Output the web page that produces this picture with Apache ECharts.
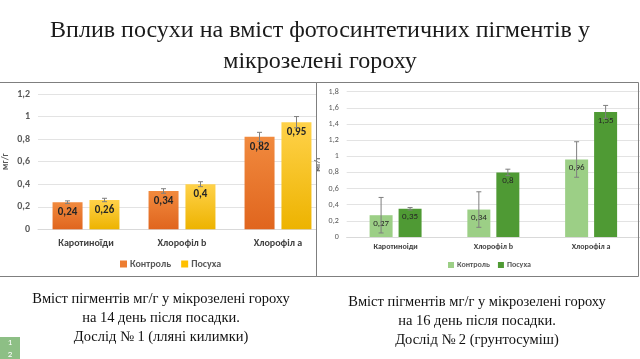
<!DOCTYPE html>
<html><head><meta charset="utf-8">
<script src="https://cdn.jsdelivr.net/npm/echarts@6/dist/echarts.min.js"></script>
<style>html,body{margin:0;padding:0;background:#fff}#c{width:640px;height:359px}</style>
</head><body><div id="c"></div>
<script>
const categories1 = ['Каротиноїди', 'Хлорофіл b', 'Хлорофіл а'];
const control1 = [0.24, 0.34, 0.82];
const drought1 = [0.26, 0.4, 0.95];
const controlErr1 = [0.012, 0.02, 0.04];
const droughtErr1 = [0.015, 0.022, 0.05];

const categories2 = ['Каротиноіди', 'Хлорофіл b', 'Хлорофіл а'];
const control2 = [0.27, 0.34, 0.96];
const drought2 = [0.35, 0.8, 1.55];
const controlErr2 = [0.22, 0.22, 0.22];
const droughtErr2 = [0.015, 0.04, 0.08];

const seriesNames = ['Контроль', 'Посуха'];
const yTicks1 = {min: 0, max: 1.2, interval: 0.2};
const yTicks2 = {min: 0, max: 1.8, interval: 0.2};

const titleLines = ['Вплив посухи на вміст фотосинтетичних пігментів у', 'мікрозелені гороху'];
const caption1 = ['Вміст пігментів мг/г у мікрозелені гороху', 'на 14 день після посадки.', 'Дослід № 1 (лляні килимки)'];
const caption2 = ['Вміст пігментів мг/г у мікрозелені гороху', 'на 16 день після посадки.', 'Дослід № 2 (грунтосуміш)'];

const comma = v => String(+(+v).toFixed(2)).replace('.', ',');
const grad = (a, b) => new echarts.graphic.LinearGradient(0, 0, 0, 1, [{offset: 0, color: a}, {offset: 1, color: b}]);

function errSeries(xi, yi, vals, errs, offset) {
  return {
    type: 'custom', xAxisIndex: xi, yAxisIndex: yi, z: 5, silent: true,
    data: vals.map((v, i) => [i, v - errs[i], v + errs[i]]),
    renderItem: (params, api) => {
      const lo = api.coord([api.value(0), api.value(1)]);
      const hi = api.coord([api.value(0), api.value(2)]);
      const x = lo[0] + offset;
      const st = {stroke: '#7f7f7f', lineWidth: 1};
      return {type: 'group', children: [
        {type: 'line', shape: {x1: x, y1: lo[1], x2: x, y2: hi[1]}, style: st},
        {type: 'line', shape: {x1: x - 2.5, y1: lo[1], x2: x + 2.5, y2: lo[1]}, style: st},
        {type: 'line', shape: {x1: x - 2.5, y1: hi[1], x2: x + 2.5, y2: hi[1]}, style: st}
      ]};
    }
  };
}

const serif = '"Liberation Serif", "Times New Roman", serif';
const sans = 'Calibri, Carlito, "Open Sans", "Noto Sans", sans-serif';

const graphics = [];
titleLines.forEach((t, i) => graphics.push({type: 'text', x: 320, y: 31 + i * 31, z: 10,
  style: {text: t, font: '24px ' + serif, fill: '#1a1a1a', textAlign: 'center', textVerticalAlign: 'middle'}}));
caption1.forEach((t, i) => graphics.push({type: 'text', x: 161, y: 299 + i * 19, z: 10,
  style: {text: t, font: '14.5px ' + serif, fill: '#111', textAlign: 'center', textVerticalAlign: 'middle'}}));
caption2.forEach((t, i) => graphics.push({type: 'text', x: 477, y: 302 + i * 19, z: 10,
  style: {text: t, font: '14.5px ' + serif, fill: '#111', textAlign: 'center', textVerticalAlign: 'middle'}}));
// right panel white background (covers left grid overflow)
graphics.push({type: 'rect', z: 1, shape: {x: 316.5, y: 82.5, width: 330, height: 194}, style: {fill: '#fff'}});
// panel borders
graphics.push({type: 'rect', z: 10, shape: {x: -1, y: 82.5, width: 317.5, height: 194}, style: {fill: 'none', stroke: '#7f7f7f', lineWidth: 1}});
graphics.push({type: 'rect', z: 10, shape: {x: 316.5, y: 82.5, width: 322, height: 194}, style: {fill: 'none', stroke: '#7f7f7f', lineWidth: 1}});
graphics.push({type: 'rect', z: 10, shape: {x: 0, y: 337, width: 20, height: 22}, style: {fill: '#8dbf85'}});
graphics.push({type: 'text', x: 10, y: 343, z: 11, style: {text: '1', font: '9px ' + sans, fill: '#fff', textAlign: 'center', textVerticalAlign: 'middle'}});
graphics.push({type: 'text', x: 10, y: 355, z: 11, style: {text: '2', font: '9px ' + sans, fill: '#fff', textAlign: 'center', textVerticalAlign: 'middle'}});

const c1 = ['#F18A3E', '#E0651E'];
const y1 = ['#FFD24A', '#EDB300'];
const g1 = '#9ccf86';
const g2 = '#4f9a34';

const option = {
  animation: false,
  backgroundColor: '#fff',
  textStyle: {fontFamily: sans},
  graphic: graphics,
  grid: [
    {left: 35, top: 94, width: 291, height: 135.3},
    {left: 346.7, top: 91.7, width: 303, height: 145.3}
  ],
  xAxis: [
    {type: 'category', gridIndex: 0, data: categories1, z: 0,
      axisLine: {show: true, lineStyle: {color: '#d9d9d9'}}, axisTick: {show: false},
      axisLabel: {margin: 9, fontSize: 10, fontWeight: 'bold', color: '#404040'}},
    {type: 'category', gridIndex: 1, data: categories2, z: 3,
      axisLine: {show: true, lineStyle: {color: '#d9d9d9'}}, axisTick: {show: false},
      axisLabel: {margin: 6, fontSize: 8, fontWeight: 'bold', color: '#404040'}}
  ],
  yAxis: [
    Object.assign({type: 'value', gridIndex: 0, z: 0, name: 'мг/г', nameLocation: 'middle', nameGap: 28, nameRotate: 90,
      nameTextStyle: {fontSize: 9, fontWeight: 'bold', color: '#595959'},
      axisLabel: {formatter: comma, fontSize: 10, fontWeight: 'bold', color: '#595959', margin: 8},
      splitLine: {lineStyle: {color: '#e3e3e3'}}}, yTicks1),
    Object.assign({type: 'value', gridIndex: 1, z: 3, name: 'мг/г', nameLocation: 'middle', nameGap: 25, nameRotate: 90,
      nameTextStyle: {fontSize: 8, fontWeight: 'bold', color: '#595959'},
      axisLabel: {formatter: comma, fontSize: 8, color: '#595959', margin: 8},
      splitLine: {lineStyle: {color: '#e3e3e3'}}}, yTicks2)
  ],
  legend: [
    {left: 115, top: 254, itemWidth: 7, itemHeight: 7, itemGap: 10, icon: 'rect',
      textStyle: {fontSize: 10, fontWeight: 'bold', color: '#595959', padding: [0, 0, 0, -2]},
      data: [{name: seriesNames[0], itemStyle: {color: '#ED7D31'}}, {name: seriesNames[1], itemStyle: {color: '#FFC000'}}]},
    {left: 443, top: 256, itemWidth: 6, itemHeight: 6, itemGap: 8, icon: 'rect',
      textStyle: {fontSize: 8, fontWeight: 'bold', color: '#595959', padding: [0, 0, 0, -2]},
      data: [{name: seriesNames[0], itemStyle: {color: g1}}, {name: seriesNames[1], itemStyle: {color: g2}}]}
  ],
  series: [
    {type: 'bar', name: seriesNames[0], xAxisIndex: 0, yAxisIndex: 0, data: control1, barWidth: 30, barGap: '23%',
      itemStyle: {color: grad(c1[0], c1[1])},
      label: {show: true, position: 'insideTop', distance: 5, formatter: p => comma(p.value), fontSize: 11, fontWeight: 'bold', color: '#262626'}},
    {type: 'bar', name: seriesNames[1], xAxisIndex: 0, yAxisIndex: 0, data: drought1, barWidth: 30, barGap: '23%',
      itemStyle: {color: grad(y1[0], y1[1])},
      label: {show: true, position: 'insideTop', distance: 5, formatter: p => comma(p.value), fontSize: 11, fontWeight: 'bold', color: '#262626'}},
    {type: 'bar', name: seriesNames[0], xAxisIndex: 1, yAxisIndex: 1, data: control2, barWidth: 23, barGap: '26%', z: 4,
      itemStyle: {color: g1},
      label: {show: true, position: 'insideTop', distance: 4, formatter: p => comma(p.value), fontSize: 9, color: '#262626'}},
    {type: 'bar', name: seriesNames[1], xAxisIndex: 1, yAxisIndex: 1, data: drought2, barWidth: 23, barGap: '26%', z: 4,
      itemStyle: {color: g2},
      label: {show: true, position: 'insideTop', distance: 4, formatter: p => comma(p.value), fontSize: 9, color: '#262626'}},
    errSeries(0, 0, control1, controlErr1, -18.5),
    errSeries(0, 0, drought1, droughtErr1, 18.5),
    errSeries(1, 1, control2, controlErr2, -14.5),
    errSeries(1, 1, drought2, droughtErr2, 14.5)
  ]
};
echarts.init(document.getElementById('c')).setOption(option);
</script>
</body></html>
